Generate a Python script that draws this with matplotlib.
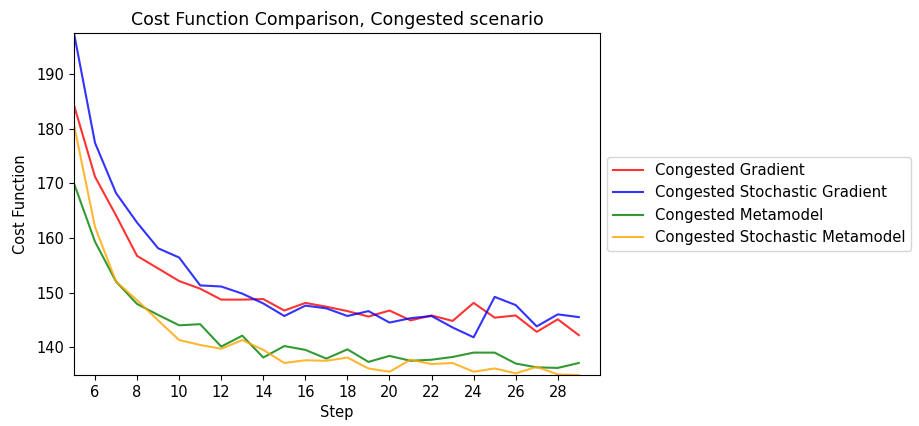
import matplotlib
matplotlib.use("Agg")
import matplotlib.pyplot as plt

steps = list(range(5, 30))

gradient = [184.3, 171.2, 164.1, 156.7, 154.4, 152.1, 150.7, 148.7, 148.7, 148.8,
            146.7, 148.1, 147.4, 146.6, 145.6, 146.7, 144.9, 145.8, 144.8, 148.1,
            145.4, 145.8, 142.8, 145.1, 142.2]
stoch_gradient = [197.5, 177.4, 168.2, 162.8, 158.1, 156.4, 151.3, 151.1, 149.8, 148.0,
                  145.7, 147.6, 147.1, 145.7, 146.6, 144.5, 145.3, 145.7, 143.6, 141.8,
                  149.2, 147.7, 143.8, 146.0, 145.5]
metamodel = [170.0, 159.3, 152.0, 147.9, 145.9, 144.0, 144.2, 140.1, 142.1, 138.1,
             140.2, 139.5, 137.9, 139.6, 137.3, 138.4, 137.5, 137.7, 138.2, 139.0,
             139.0, 137.0, 136.3, 136.2, 137.1]
stoch_metamodel = [180.7, 162.0, 152.0, 148.6, 144.9, 141.3, 140.4, 139.7, 141.3, 139.5,
                   137.1, 137.6, 137.5, 138.1, 136.1, 135.5, 137.7, 136.9, 137.1, 135.5,
                   136.1, 135.2, 136.4, 135.0, 134.9]

fig = plt.figure(figsize=(9.2, 4.26), dpi=100)
ax = fig.add_axes([0.0804, 0.1197, 0.5716, 0.8028])

ax.plot(steps, gradient, color="red", alpha=0.8, label="Congested Gradient")
ax.plot(steps, stoch_gradient, color="blue", alpha=0.8, label="Congested Stochastic Gradient")
ax.plot(steps, metamodel, color="green", alpha=0.8, label="Congested Metamodel")
ax.plot(steps, stoch_metamodel, color="orange", alpha=0.8, label="Congested Stochastic Metamodel")

all_vals = gradient + stoch_gradient + metamodel + stoch_metamodel
ax.set_xlim(5, 30)
ax.set_ylim(min(all_vals), max(all_vals))
ax.set_xticks(range(6, 30, 2))
ax.tick_params(labelsize=10.5)

ax.set_title("Cost Function Comparison, Congested scenario", fontsize=12.5)
ax.set_xlabel("Step", fontsize=10.5)
ax.set_ylabel("Cost Function", fontsize=10.5, labelpad=6)
ax.legend(loc="center left", bbox_to_anchor=(1.0, 0.5), fontsize=10.7)

fig.savefig("out.png", dpi=100)
